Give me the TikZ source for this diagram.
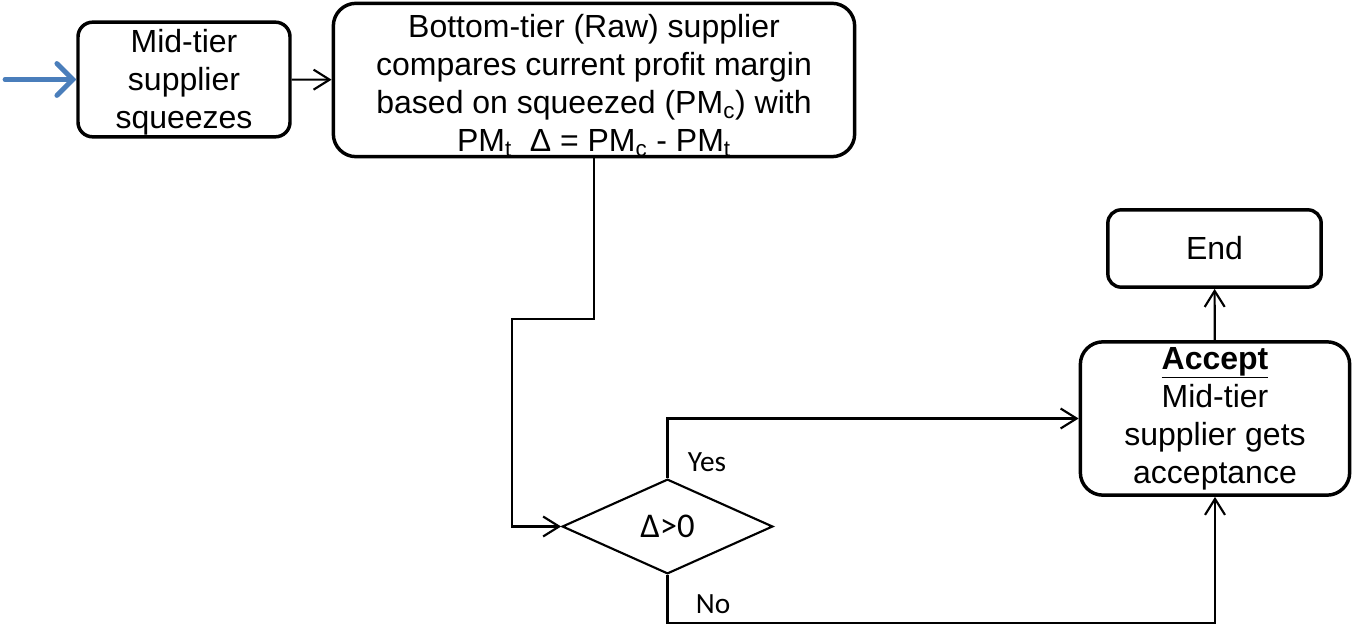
\documentclass[tikz,border=0pt]{standalone}
\usepackage{fontspec}
\setmainfont{Liberation Sans}
\newfontfamily\calibri{Carlito}
\usepackage{xcolor}
\usetikzlibrary{arrows.meta,positioning,calc,shapes.geometric}

\definecolor{inblue}{HTML}{4A7EBB}

\begin{document}
\begin{tikzpicture}[
  x=0.75pt, y=-0.75pt,
  box/.style={draw, line width=2.6pt, rounded corners=17pt, align=center,
              inner sep=0pt, font=\fontsize{24}{28.5}\selectfont},
  decision/.style={draw, diamond, line width=1.6pt, aspect=2.22, inner sep=0pt,
                   minimum width=158pt, minimum height=71pt,
                   font=\calibri\fontsize{26}{30}\selectfont},
  lbl/.style={font=\calibri\fontsize{22}{26}\selectfont, inner sep=0pt},
  arrow/.style={-{Straight Barb[length=12pt,width=15pt]}, line width=1.6pt},
  inarrow/.style={-{Straight Barb[length=12pt,width=24pt,line cap=round]},
                  line width=3.6pt, inblue, line cap=round}
]
\useasboundingbox (0,0) rectangle (1352,630);

\node[box, rounded corners=11pt, minimum width=159pt, minimum height=86pt]
  (squeeze) at (184,79.5) {\rule{0pt}{21pt}Mid-tier\\supplier\\squeezes};
\node[box, minimum width=391pt, minimum height=115pt] (compare) at (594,80)
  {\rule{0pt}{25pt}Bottom-tier (Raw) supplier\\compares current profit margin\\
   based on squeezed (PM\textsubscript{c}) with\\
   PM\textsubscript{t}\ \ Δ = PM\textsubscript{c} - PM\textsubscript{t}};
\node[decision] (cond) at (667.5,526.5) {Δ>0};
\node[box, minimum width=202pt, minimum height=115pt] (accept) at (1215,418.5)
  {\underline{\textbf{Accept}}\\Mid-tier\\supplier gets\\acceptance};
\node[box, rounded corners=10pt, minimum width=160pt, minimum height=58pt]
  (end) at (1214.5,248.5) {End};

\node[lbl] (yes) at (707,462) {Yes};
\node[lbl] (no) at (713,604) {No};

\coordinate (start) at (5,79.5);
\draw[inarrow] (start) -- (squeeze.west);
\draw[arrow] (squeeze) -- (compare);
\draw[arrow] (compare.south) -- ++(0,161) -| ($(cond.west)+(-49,0)$) -- (cond.west);
\draw[arrow] (cond.north) |- (accept.west);
\draw[arrow] (cond.south) -- ++(0,48) -| (accept.south);
\draw[arrow] (accept) -- (end);
\end{tikzpicture}
\end{document}
